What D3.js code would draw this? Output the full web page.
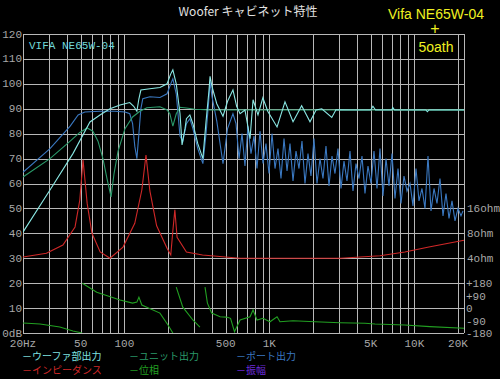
<!DOCTYPE html>
<html>
<head>
<meta charset="utf-8">
<script src="https://cdn.jsdelivr.net/npm/d3@7"></script>
<style>
  body { margin: 0; background: #000; }
  svg { display: block; }
  .lbl { font-family: "Liberation Mono", "DejaVu Sans Mono", monospace; font-size: 11px; fill: #a8a8a8; }
  .jp { font-family: "Noto Sans CJK JP", sans-serif; font-size: 11px; }
</style>
</head>
<body>
<svg class="chart" width="500" height="379"></svg>
<script>
// ---- data ----
var gridFreqs = [20,30,40,50,60,70,80,90,100,200,300,400,500,600,700,800,900,1000,
                 2000,3000,4000,5000,6000,7000,8000,9000,10000,20000];
var freqLabels = [[20,"20Hz"],[50,"50"],[100,"100"],[500,"500"],[1000,"1K"],[5000,"5K"],[10000,"10K"],[20000,"20K"]];
var dbTicks = [0,10,20,30,40,50,60,70,80,90,100,110,120];
var ohmTicks = [[4,"4ohm"],[8,"8ohm"],[16,"16ohm"]];
var phaseTicks = [[180,"+180"],[90,"+90"],[0,"0"],[-90,"-90"],[-180,"-180"]];

// woofer part output (dB)
var woofer = [[20,40.5],[30.7,57.4],[44.2,72],[57.9,84.7],[67.9,87.5],[79.6,90],[93.4,91.5],[109,92.5],
  [116,91],[122,89],[126,94],[130,97.5],[150,98],[176,98.5],[197,100],[209,104],[216,105.6],[228,100],
  [242,88],[250,75.5],[262,82],[268,86],[283,87.5],[297,84],[321,76],[348,70],[366,85],[383,97],[390,103],
  [402,99],[434,92],[479,87],[515,93],[561,97.6],[595,91],[628,88],[679,89.5],[736,78],[772,93.6],[835,87.5],
  [902,94.4],[975,89],[1130,82.7],[1282,92.8],[1457,84.8],[1670,91.2],[1907,84.8],[2100,89.5],[2300,90],
  [2695,86.5],[2880,89.6],[3600,89.5],[5000,89.5],[5180,91],[5400,89.5],[7000,89.5],[7100,90.5],[7300,89.5],
  [12000,89.5],[12300,88.8],[12600,89.5],[22000,89.5]];

// unit output (dB)
var unit = [[20,62.6],[30.7,70],[42.3,77],[49.3,80.5],[55.4,82.3],[60.7,81],[65.8,77],[71.2,70],[75.9,62],
  [81,54.6],[84.9,64],[90.5,73],[101,82],[114,86.7],[128,89],[143,90.4],[176,90.8],[197,89.5],[206,88],
  [216,83],[228,88],[242,90.6],[268,90.3],[307,89.8],[390,89.5],[22000,89.5]];

// port output (dB)
var port = [[20,64.5],[30.7,74],[42.3,83],[48,87.5],[53.4,88.7],[67.9,89],[86,89],[101,88.7],[109,88],
  [114,84],[118,75],[122,70],[126,80],[130,90],[134,94],[150,94.8],[176,94.5],[197,96],[209,100],[216,102],
  [228,96],[242,79],[253,77],[268,84],[283,86],[297,82],[321,74],[348,68],[366,80],[383,94],[390,101],
  [402,95],[434,85],[479,68],[515,82],[561,88],
  [589,84],[618,70],[648,80],[679,67],[712,83],[747,72],[784,79],[822,66],[862,81],[904,68],[948,76],
  [994,64],[1043,80],[1094,66],[1147,74],[1203,62],[1262,78],[1324,65],[1388,76],[1456,61],[1527,73],
  [1601,66],[1679,77],[1761,60],[1847,72],[1937,63],[2032,78],[2131,60],[2235,70],[2344,62],[2458,75],
  [2578,59],[2704,71],[2836,64],[2974,74],[3120,58],[3272,69],[3431,61],[3599,73],[3774,57],[3958,68],
  [4151,62],[4354,71],[4566,56],[4789,67],[5024,60],[5269,73],[5526,58],[5795,74],[6078,55],[6375,70],
  [6686,59],[7012,72],[7354,54],[7713,66],[8089,52],[8484,63],[8898,57],[9332,60],[9787,51],[10265,66],
  [10766,53],[11291,58],[11842,50],[12420,71],[13026,49],[13662,58],[14328,52],[15028,62],[15761,47],
  [16530,56],[17337,46],[18183,53],[19070,45],[20000,50],[20976,47],[21652,49]];

// impedance (ohm)
var impedance = [[20,4.14],[29,4.59],[37.7,5.77],[45.7,9.55],[49.3,20.2],[51.9,61.8],[55.4,18.4],[59.8,8],
  [68.1,4.76],[79.6,4],[97.9,5.46],[118,10.56],[132,26.7],[141,70.6],[150,26],[167,9.85],[197,5.28],
  [209,4.38],[216,8.57],[223,15.4],[231,7.18],[268,4.76],[346,4.38],[628,4],[3100,4],[5800,4.29],
  [8600,4.76],[12600,5.46],[22000,6.61]];

// phase (deg)
var phase = [[20,-108],[26.2,-115],[35.9,-137],[44.2,-166],[51.2,-180],[51.3,180],[64.5,115],[93.4,58],
  [114,36],[122,43],[126,79],[132,22],[176,-36],[200,-122],[216,-180],[228,151],[253,7],[297,-86],
  [332,-137],[360,151],[374,36],[400,-36],[457,-63],[506,-65],[540,-74],[575,-171],[628,-86],[736,-63],
  [772,-14],[822,-86],[904,-74],[1010,-99],[1130,-63],[1184,-99],[1456,-91],[2064,-99],[3070,-106],
  [4566,-110],[5352,-115],[8600,-122],[12800,-134],[22000,-146]];

var legendItems = [
  ["－ウーファ部出力", "#7fe3e0", 0, 0], ["－ユニット出力", "#2a9a6a", 1, 0], ["－ポート出力", "#3a78c0", 2, 0],
  ["－インピーダンス", "#d02828", 0, 1], ["－位相", "#22a022", 1, 1], ["－振幅", "#6a2ad8", 2, 1]];

// ---- chart ----
var svg = d3.select(".chart");
var pLeft = 23, pRight = 464, pTop = 34, pBottom = 333;

var x = d3.scaleLog().domain([20, 22000]).range([pLeft, pRight]);
var y = d3.scaleLinear().domain([0, 120]).range([pBottom, pTop]);
var yOhm = d3.scaleLog().base(2).domain([4, 16]).range([y(30), y(50)]);
var yPh = d3.scaleLinear().domain([-180, 180]).range([y(0), y(20)]);

svg.append("rect").attr("width", 500).attr("height", 379).attr("fill", "#000");

var grid = svg.append("g").attr("stroke", "#b8b8b8").attr("stroke-width", 1).attr("shape-rendering", "crispEdges");
grid.selectAll(".vg").data(gridFreqs).enter().append("line")
    .attr("x1", function(d) { return Math.round(x(d)) + 0.5; })
    .attr("x2", function(d) { return Math.round(x(d)) + 0.5; })
    .attr("y1", pTop).attr("y2", pBottom);
grid.selectAll(".hg").data(dbTicks).enter().append("line")
    .attr("x1", pLeft).attr("x2", pRight)
    .attr("y1", function(d) { return Math.round(y(d)) + 0.5; })
    .attr("y2", function(d) { return Math.round(y(d)) + 0.5; });
grid.append("line").attr("x1", pRight + 0.5).attr("x2", pRight + 0.5).attr("y1", pTop).attr("y2", pBottom);

// left dB labels
svg.selectAll(".dbl").data(dbTicks).enter().append("text")
    .attr("class", "lbl").attr("text-anchor", "end")
    .attr("x", 22).attr("y", function(d) { return y(d) + 3.5; })
    .text(function(d) { return d == 0 ? "0dB" : d; });

// freq labels
svg.selectAll(".fl").data(freqLabels).enter().append("text")
    .attr("class", "lbl").attr("text-anchor", "middle")
    .attr("x", function(d) { return x(d[0]); }).attr("y", 347)
    .text(function(d) { return d[1]; });

// right labels
svg.selectAll(".ol").data(ohmTicks).enter().append("text")
    .attr("class", "lbl").attr("x", 467).attr("y", function(d) { return yOhm(d[0]) + 4; })
    .text(function(d) { return d[1]; });
svg.selectAll(".pl").data(phaseTicks).enter().append("text")
    .attr("class", "lbl").attr("x", 466).attr("y", function(d) { return yPh(d[0]) + 4; })
    .text(function(d) { return d[1]; });

var plot = svg.append("g");
plot.append("clipPath").attr("id", "clip").append("rect")
    .attr("x", pLeft).attr("y", pTop).attr("width", pRight - pLeft + 1).attr("height", pBottom - pTop);
var lines = plot.append("g").attr("clip-path", "url(#clip)").attr("fill", "none").attr("stroke-width", 1.1);

var dbLine = d3.line().x(function(d) { return x(d[0]); }).y(function(d) { return y(d[1]); });
var ohmLine = d3.line().x(function(d) { return x(d[0]); }).y(function(d) { return yOhm(d[1]); });
var phLine = d3.line().x(function(d) { return x(d[0]); }).y(function(d) { return yPh(d[1]); });

// split phase at wraps
var phSegs = [[phase[0]]];
for (var i = 1; i < phase.length; i++) {
  if (Math.abs(phase[i][1] - phase[i-1][1]) > 200) phSegs.push([]);
  phSegs[phSegs.length - 1].push(phase[i]);
}

lines.append("path").attr("d", ohmLine(impedance)).attr("stroke", "#d02828");
phSegs.forEach(function(s) { lines.append("path").attr("d", phLine(s)).attr("stroke", "#22a022"); });
lines.append("path").attr("d", dbLine(port)).attr("stroke", "#3a78c0");
lines.append("path").attr("d", dbLine(unit)).attr("stroke", "#2a9a6a");
lines.append("path").attr("d", dbLine(woofer)).attr("stroke", "#8ae8e4");

// texts
svg.append("text").attr("x", 29).attr("y", 49)
    .style("font-family", "'Liberation Mono', monospace").style("font-size", "11px")
    .attr("fill", "#70d8d8").text("VIFA NE65W-04");

svg.append("text").attr("x", 248).attr("y", 16).attr("text-anchor", "middle")
    .attr("class", "jp").attr("fill", "#e0e0e0").style("font-size", "12px")
    .text("Woofer キャビネット特性");

svg.append("rect").attr("x", 415).attr("y", 36).attr("width", 42).attr("height", 20).attr("fill", "#000");
svg.append("text").attr("x", 436).attr("y", 19).attr("text-anchor", "middle")
    .style("font-family", "'Liberation Sans', sans-serif").style("font-size", "14px")
    .attr("fill", "#f0f020").text("Vifa NE65W-04");
svg.append("text").attr("x", 435).attr("y", 34).attr("text-anchor", "middle")
    .style("font-family", "'Liberation Sans', sans-serif").style("font-size", "16px")
    .attr("fill", "#f0f020").text("+");
svg.append("text").attr("x", 436).attr("y", 52).attr("text-anchor", "middle")
    .style("font-family", "'Liberation Sans', sans-serif").style("font-size", "14px")
    .attr("fill", "#f0f020").text("5oath");

// legend
svg.selectAll(".lg").data(legendItems).enter().append("text")
    .attr("class", "jp").style("font-size", "10px")
    .attr("x", function(d) { return 22 + d[2] * 107; })
    .attr("y", function(d) { return 360 + d[3] * 14; })
    .attr("fill", function(d) { return d[1]; })
    .text(function(d) { return d[0]; });
</script>
</body>
</html>
